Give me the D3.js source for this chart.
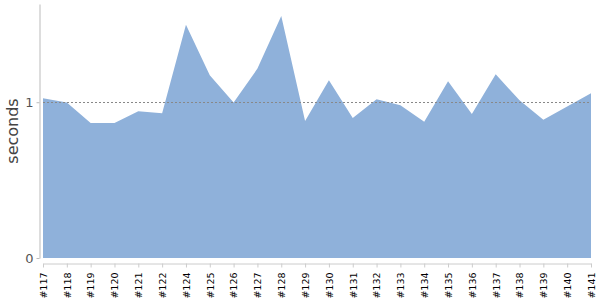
<!DOCTYPE html>
<html>
<head>
<meta charset="utf-8">
<script src="https://cdn.jsdelivr.net/npm/d3@7"></script>
<style>
  body { margin: 0; background: #fff; }
  svg { font-family: "DejaVu Sans", sans-serif; }
</style>
</head>
<body>
<div id="chart"></div>
<script>
// Build numbers (no #123 in the run)
const builds = ['#117', '#118', '#119', '#120', '#121', '#122', '#124', '#125', '#126', '#127', '#128', '#129',
    '#130', '#131', '#132', '#133', '#134', '#135', '#136', '#137', '#138', '#139', '#140', '#141'];
// Duration per build, seconds
const seconds = [1.026, 0.998, 0.867, 0.867, 0.942, 0.929, 1.498, 1.173, 0.998, 1.216, 1.553, 0.880,
    1.141, 0.899, 1.019, 0.981, 0.874, 1.135, 0.925, 1.179, 1.013, 0.887, 0.973, 1.058];
const yTicks = [0, 1];
const baseline = 1;

const width = 600, height = 300;
const margin = {top: 4, right: 9, bottom: 42, left: 43};

const data = builds.map((b, i) => ({build: b, value: seconds[i]}));

const svg = d3.select('#chart')
    .append('svg')
    .attr('width', width)
    .attr('height', height);

const x = d3.scalePoint()
    .domain(builds)
    .range([margin.left, width - margin.right]);

const y = d3.scaleLinear()
    .domain([0, d3.max(seconds) * 1.05])
    .range([height - margin.bottom, margin.top]);

// Area
const area = d3.area()
    .x(d => x(d.build))
    .y0(y(0))
    .y1(d => y(d.value));

svg.append('path')
    .datum(data)
    .attr('fill', '#8fb1da')
    .attr('d', area);

// Reference line at 1 second
svg.append('line')
    .attr('x1', margin.left)
    .attr('x2', width - margin.right)
    .attr('y1', Math.round(y(baseline)) + 0.5)
    .attr('y2', Math.round(y(baseline)) + 0.5)
    .attr('stroke', '#888')
    .attr('stroke-width', 1)
    .attr('stroke-dasharray', '2,2');

// Y axis
svg.append('g')
    .attr('transform', `translate(${margin.left - 3.5},0)`)
    .call(d3.axisLeft(y)
        .tickValues(yTicks)
        .tickFormat(d3.format('d'))
        .tickSize(3)
        .tickSizeOuter(0)
    )
    .call(g => g.select('.domain').attr('stroke', '#bbb'))
    .call(g => g.selectAll('.tick line').attr('stroke', '#bbb'))
    .call(g => g.selectAll('text').attr('font-size', '13px').attr('fill', '#555')
        .attr('font-family', '"DejaVu Sans", sans-serif').attr('x', -6));

// X axis
svg.append('g')
    .attr('transform', `translate(0,${height - margin.bottom + 5.5})`)
    .call(d3.axisBottom(x).tickSize(4).tickSizeOuter(0))
    .call(g => g.select('.domain').attr('stroke', '#ccc'))
    .call(g => g.selectAll('.tick line').attr('stroke', '#ccc'))
    .call(g => g.selectAll('text')
        .attr('font-size', '9.5px')
        .attr('font-family', '"DejaVu Sans", sans-serif')
        .attr('fill', '#000')
        .attr('text-anchor', 'end')
        .attr('dy', '0.35em')
        .attr('transform', 'rotate(-90)')
        .attr('x', -9)
        .attr('y', 0));

// Y label
svg.append('text')
    .attr('transform', 'rotate(-90)')
    .attr('x', -131)
    .attr('y', 18)
    .attr('text-anchor', 'middle')
    .attr('font-size', '16px')
    .attr('fill', '#444')
    .text('seconds');
</script>
</body>
</html>
